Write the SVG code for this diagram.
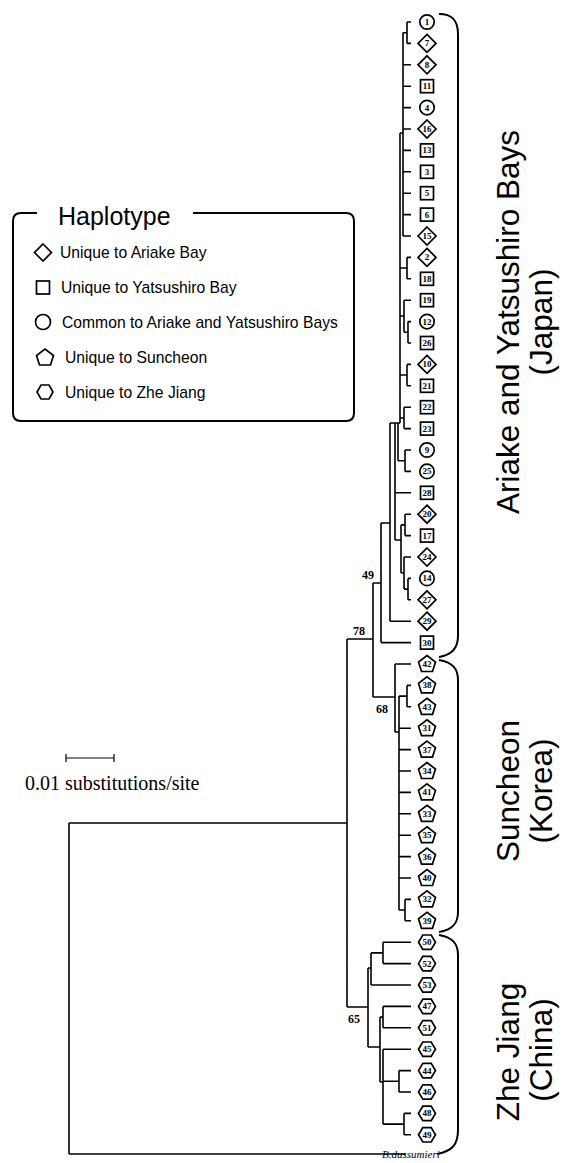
<svg xmlns="http://www.w3.org/2000/svg" width="566" height="1163" viewBox="0 0 566 1163">
<style>
.t{fill:none;stroke:#000;stroke-width:1.6}
.s{fill:#fff;stroke:#000;stroke-width:1.7}
.n{font-family:"Liberation Serif",serif;font-size:9px;font-weight:bold;text-anchor:middle;fill:#000}
.b{font-family:"Liberation Serif",serif;font-size:12px;font-weight:bold;fill:#000}
.big{font-family:"Liberation Sans",Arial,sans-serif;font-size:31.5px;text-anchor:middle;fill:#000}
.lg{font-family:"Liberation Sans",Arial,sans-serif;font-size:15.7px;fill:#000}
.br{fill:none;stroke:#000;stroke-width:2}
</style>
<defs>
<circle id="ci" r="7.2" class="s"/>
<polygon id="di" points="0,-9 9,0 0,9 -9,0" class="s"/>
<rect id="sq" x="-6.5" y="-6.5" width="13" height="13" class="s"/>
<polygon id="pe" points="0,-8.5 8.5,-2 5.5,7.5 -5.5,7.5 -8.5,-2" class="s"/>
<polygon id="hx" points="-8.5,0 -4.2,-7.2 4.2,-7.2 8.5,0 4.2,7.2 -4.2,7.2" class="s"/>
</defs>
<rect width="566" height="1163" fill="#fff"/>

<g id="connectors" class="t">
<path d="M407 22H411M407 43.4H411M407 22V43.4M403 32.7H407M403 32.7V236
M403 64.8H411M403 86.2H411M403 107.6H411M403 129H411M403 150.4H411M403 171.8H411M403 193.2H411M403 214.6H411M403 236H411
M400 133V423M400 133H403
M407 257.4V278.8M407 257.4H411M407 278.8H411M400 268H407
M404 300.2H411M404 300.2V332.3M408 321.6V343M408 321.6H411M408 343H411M404 332.3H408M400 316H404
M407 364.4V385.8M407 364.4H411M407 385.8H411M400 375H407
M404 407.2V428.6M404 407.2H411M404 428.6H411M400 418H404
M398 423V460.7M398 423H400M405 450V471.4M405 450H411M405 471.4H411M398 460.7H405
M395 423V540M395 423H398M395 492.8H411
M405 514.2V535.6M405 514.2H411M405 535.6H411M401 524.9H405
M404 557V589.1M404 557H411M408 578.4V599.8M408 578.4H411M408 599.8H411M404 589.1H408M401 573H404
M401 524.9V573M395 540H401
M390 423V621.2M390 423H395M390 621.2H411
M381 523V642.6M381 523H390M381 642.6H411
M373 583V697M373 583H381
M395 664V732M395 664H411M373 697H395
M399 696.1V910M395 732H399
M407 685.4V706.8M407 685.4H411M407 706.8H411M399 696.1H407
M399 728.2H411M399 749.6H411M399 771H411M399 792.4H411M399 813.8H411M399 835.2H411M399 856.6H411M399 878H411
M405 899.4V920.8M405 899.4H411M405 920.8H411M399 910H405
M347 639V1007M347 639H373M347 1007H368
M368 968V1047M368 968H371M368 1047H380
M371 952.9V985M371 985H411M383 942.2V963.6M383 942.2H411M383 963.6H411M371 952.9H383
M380 1017.1V1082M383 1006.4V1027.8M383 1006.4H411M383 1027.8H411M380 1017.1H383
M383 1049.2V1124.1M380 1082H383M383 1049.2H411
M399 1070.6V1092M399 1070.6H411M399 1092H411M383 1081.3H399
M404 1113.4V1134.8M404 1113.4H411M404 1134.8H411M383 1124.1H404
M69 823V1154M69 823H347M69 1154H406"/>
</g>

<g id="bootstrap">
<text class="b" x="362" y="579">49</text>
<text class="b" x="353" y="635">78</text>
<text class="b" x="376" y="713">68</text>
<text class="b" x="348" y="1023">65</text>
</g>

<g id="leaves">
<g id="h1"><use href="#ci" x="427" y="22"/><text class="n" x="427" y="25">1</text></g>
<g id="h7"><use href="#di" x="427" y="43.4"/><text class="n" x="427" y="46.4">7</text></g>
<g id="h8"><use href="#di" x="427" y="64.8"/><text class="n" x="427" y="67.8">8</text></g>
<g id="h11"><use href="#sq" x="427" y="86.2"/><text class="n" x="427" y="89.2">11</text></g>
<g id="h4"><use href="#ci" x="427" y="107.6"/><text class="n" x="427" y="110.6">4</text></g>
<g id="h16"><use href="#di" x="427" y="129"/><text class="n" x="427" y="132">16</text></g>
<g id="h13"><use href="#sq" x="427" y="150.4"/><text class="n" x="427" y="153.4">13</text></g>
<g id="h3"><use href="#sq" x="427" y="171.8"/><text class="n" x="427" y="174.8">3</text></g>
<g id="h5"><use href="#sq" x="427" y="193.2"/><text class="n" x="427" y="196.2">5</text></g>
<g id="h6"><use href="#sq" x="427" y="214.6"/><text class="n" x="427" y="217.6">6</text></g>
<g id="h15"><use href="#di" x="427" y="236"/><text class="n" x="427" y="239">15</text></g>
<g id="h2"><use href="#di" x="427" y="257.4"/><text class="n" x="427" y="260.4">2</text></g>
<g id="h18"><use href="#sq" x="427" y="278.8"/><text class="n" x="427" y="281.8">18</text></g>
<g id="h19"><use href="#sq" x="427" y="300.2"/><text class="n" x="427" y="303.2">19</text></g>
<g id="h12"><use href="#ci" x="427" y="321.6"/><text class="n" x="427" y="324.6">12</text></g>
<g id="h26"><use href="#sq" x="427" y="343"/><text class="n" x="427" y="346">26</text></g>
<g id="h10"><use href="#di" x="427" y="364.4"/><text class="n" x="427" y="367.4">10</text></g>
<g id="h21"><use href="#sq" x="427" y="385.8"/><text class="n" x="427" y="388.8">21</text></g>
<g id="h22"><use href="#sq" x="427" y="407.2"/><text class="n" x="427" y="410.2">22</text></g>
<g id="h23"><use href="#sq" x="427" y="428.6"/><text class="n" x="427" y="431.6">23</text></g>
<g id="h9"><use href="#ci" x="427" y="450"/><text class="n" x="427" y="453">9</text></g>
<g id="h25"><use href="#ci" x="427" y="471.4"/><text class="n" x="427" y="474.4">25</text></g>
<g id="h28"><use href="#sq" x="427" y="492.8"/><text class="n" x="427" y="495.8">28</text></g>
<g id="h20"><use href="#di" x="427" y="514.2"/><text class="n" x="427" y="517.2">20</text></g>
<g id="h17"><use href="#sq" x="427" y="535.6"/><text class="n" x="427" y="538.6">17</text></g>
<g id="h24"><use href="#di" x="427" y="557"/><text class="n" x="427" y="560">24</text></g>
<g id="h14"><use href="#ci" x="427" y="578.4"/><text class="n" x="427" y="581.4">14</text></g>
<g id="h27"><use href="#di" x="427" y="599.8"/><text class="n" x="427" y="602.8">27</text></g>
<g id="h29"><use href="#di" x="427" y="621.2"/><text class="n" x="427" y="624.2">29</text></g>
<g id="h30"><use href="#sq" x="427" y="642.6"/><text class="n" x="427" y="645.6">30</text></g>
<g id="h42"><use href="#pe" x="427" y="664"/><text class="n" x="427" y="667">42</text></g>
<g id="h38"><use href="#pe" x="427" y="685.4"/><text class="n" x="427" y="688.4">38</text></g>
<g id="h43"><use href="#pe" x="427" y="706.8"/><text class="n" x="427" y="709.8">43</text></g>
<g id="h31"><use href="#pe" x="427" y="728.2"/><text class="n" x="427" y="731.2">31</text></g>
<g id="h37"><use href="#pe" x="427" y="749.6"/><text class="n" x="427" y="752.6">37</text></g>
<g id="h34"><use href="#pe" x="427" y="771"/><text class="n" x="427" y="774">34</text></g>
<g id="h41"><use href="#pe" x="427" y="792.4"/><text class="n" x="427" y="795.4">41</text></g>
<g id="h33"><use href="#pe" x="427" y="813.8"/><text class="n" x="427" y="816.8">33</text></g>
<g id="h35"><use href="#pe" x="427" y="835.2"/><text class="n" x="427" y="838.2">35</text></g>
<g id="h36"><use href="#pe" x="427" y="856.6"/><text class="n" x="427" y="859.6">36</text></g>
<g id="h40"><use href="#pe" x="427" y="878"/><text class="n" x="427" y="881">40</text></g>
<g id="h32"><use href="#pe" x="427" y="899.4"/><text class="n" x="427" y="902.4">32</text></g>
<g id="h39"><use href="#pe" x="427" y="920.8"/><text class="n" x="427" y="923.8">39</text></g>
<g id="h50"><use href="#hx" x="427" y="942.2"/><text class="n" x="427" y="945.2">50</text></g>
<g id="h52"><use href="#hx" x="427" y="963.6"/><text class="n" x="427" y="966.6">52</text></g>
<g id="h53"><use href="#hx" x="427" y="985"/><text class="n" x="427" y="988">53</text></g>
<g id="h47"><use href="#hx" x="427" y="1006.4"/><text class="n" x="427" y="1009.4">47</text></g>
<g id="h51"><use href="#hx" x="427" y="1027.8"/><text class="n" x="427" y="1030.8">51</text></g>
<g id="h45"><use href="#hx" x="427" y="1049.2"/><text class="n" x="427" y="1052.2">45</text></g>
<g id="h44"><use href="#hx" x="427" y="1070.6"/><text class="n" x="427" y="1073.6">44</text></g>
<g id="h46"><use href="#hx" x="427" y="1092"/><text class="n" x="427" y="1095">46</text></g>
<g id="h48"><use href="#hx" x="427" y="1113.4"/><text class="n" x="427" y="1116.4">48</text></g>
<g id="h49"><use href="#hx" x="427" y="1134.8"/><text class="n" x="427" y="1137.8">49</text></g>
<g id="outgroup"><text x="382" y="1158" font-family="Liberation Serif,serif" font-size="11" font-style="italic">B.dussumieri</text></g>
</g>

<g id="braces">
<path class="br" d="M439 14C452 14 458 20 458 34V636C458 648 452 655 439 657"/>
<path class="br" d="M439 660C452 662 458 668 458 680V912C458 924 452 930 439 932"/>
<path class="br" d="M439 935C452 937 458 943 458 955V1130C458 1145 452 1151 437 1154"/>
</g>

<g id="groups">
<text class="big" transform="translate(519,322) rotate(-90)">Ariake and Yatsushiro Bays</text>
<text class="big" transform="translate(552,322) rotate(-90)">(Japan)</text>
<text class="big" transform="translate(519,791) rotate(-90)">Suncheon</text>
<text class="big" transform="translate(552,791) rotate(-90)">(Korea)</text>
<text class="big" transform="translate(519,1052) rotate(-90)">Zhe Jiang</text>
<text class="big" transform="translate(552,1050) rotate(-90)">(China)</text>
</g>

<g id="legend">
<path d="M37 213H21Q13 213 13 221V413Q13 421 21 421H346Q354 421 354 413V221Q354 213 346 213H193" fill="none" stroke="#000" stroke-width="2"/>
<text x="58" y="225" font-family="Liberation Sans,Arial,sans-serif" font-size="25">Haplotype</text>
<polygon points="43,244 51.5,252.5 43,261 34.5,252.5" class="s"/>
<text class="lg" x="60" y="258">Unique to Ariake Bay</text>
<rect x="36.5" y="281" width="13" height="13" class="s"/>
<text class="lg" x="61" y="293">Unique to Yatsushiro Bay</text>
<circle cx="43" cy="322" r="7.5" class="s"/>
<text class="lg" x="62" y="328">Common to Ariake and Yatsushiro Bays</text>
<polygon points="45,349 53.5,355.5 50.5,365 39.5,365 36.5,355.5" class="s"/>
<text class="lg" x="65" y="363">Unique to Suncheon</text>
<polygon points="37,392 41,385 49,385 53,392 49,399 41,399" class="s"/>
<text class="lg" x="65" y="398">Unique to Zhe Jiang</text>
</g>

<g id="scale">
<path d="M66 758H114M66 754V762M114 754V762" fill="none" stroke="#000" stroke-width="1.2"/>
<text x="25" y="790" font-family="Liberation Serif,serif" font-size="20">0.01 substitutions/site</text>
</g>
</svg>
